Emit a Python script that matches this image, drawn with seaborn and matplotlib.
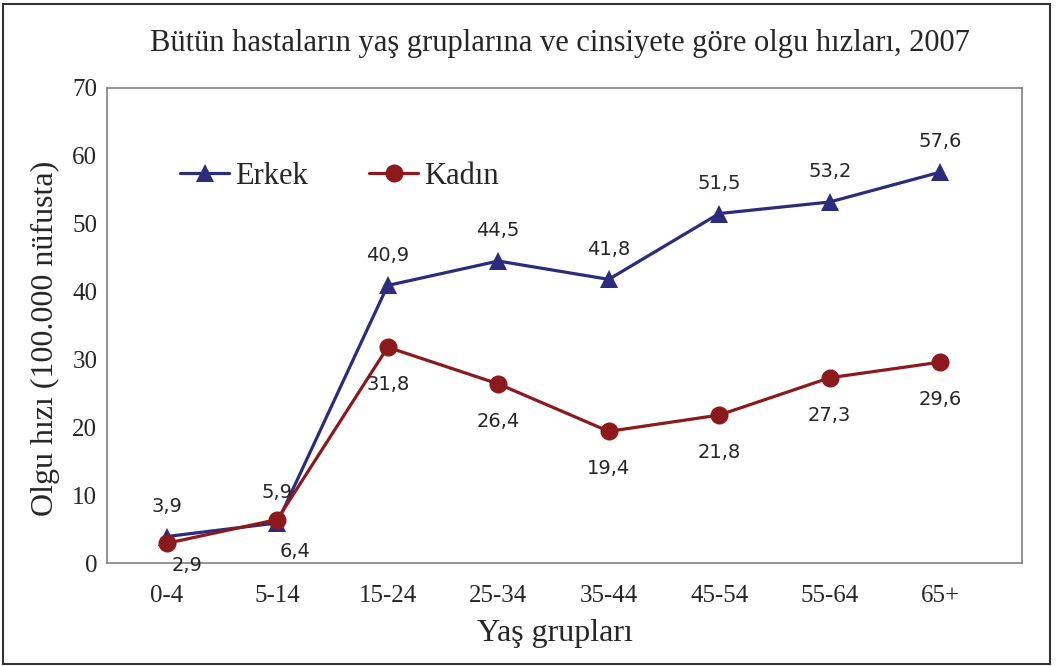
import matplotlib
matplotlib.use("Agg")
from matplotlib import pyplot as plt
from matplotlib.patches import Rectangle
import seaborn as sns
import pandas as pd

groups = ["0-4", "5-14", "15-24", "25-34", "35-44", "45-54", "55-64", "65+"]
erkek = [3.9, 5.9, 40.9, 44.5, 41.8, 51.5, 53.2, 57.6]
kadin = [2.9, 6.4, 31.8, 26.4, 19.4, 21.8, 27.3, 29.6]
series = ["Erkek", "Kadın"]

blue = "#2B2C7C"
red = "#8C1A1C"

df = pd.DataFrame({
    "grup": groups * 2,
    "x": list(range(len(groups))) * 2,
    "hiz": erkek + kadin,
    "cins": ["Erkek"] * len(groups) + ["Kadın"] * len(groups),
})

sns.set_style("white")
serif = "Liberation Serif"

fig = plt.figure(figsize=(10.57, 6.66), dpi=100)
ax = fig.add_axes([107 / 1057, 1 - 563 / 666, 915 / 1057, 475 / 666])

sns.lineplot(data=df, x="x", y="hiz", hue="cins", style="cins",
             palette={"Erkek": blue, "Kadın": red},
             markers={"Erkek": "^", "Kadın": "o"}, dashes=False,
             markersize=13, linewidth=2.3, markeredgewidth=0, ax=ax)

# data labels: Erkek above, Kadın below (first two nudged right, as in the source)
for i, v in enumerate(erkek):
    ax.annotate(f"{v:.1f}".replace(".", ","), (i, v), xytext=(0, 15),
                textcoords="offset points", ha="center", va="bottom",
                fontsize=14, family="DejaVu Sans")
kadin_off = {0: (15, -9), 1: (13, -16)}
for i, v in enumerate(kadin):
    off = kadin_off.get(i, (0, -20))
    ax.annotate(f"{v:.1f}".replace(".", ","), (i, v), xytext=off,
                textcoords="offset points", ha="center", va="top",
                fontsize=14, family="DejaVu Sans")

ax.set_xlim(-0.54, 7.74)
ax.set_ylim(0, 70)
ax.set_xticks(range(len(groups)))
ax.set_xticklabels(groups, family=serif, fontsize=18)
ax.set_yticks(range(0, 71, 10))
ax.set_yticklabels([str(t) for t in range(0, 71, 10)], family=serif, fontsize=18)
ax.tick_params(axis="x", length=0, pad=16)
ax.tick_params(axis="y", length=0, pad=7)

for s in ax.spines.values():
    s.set_color("#808080")
    s.set_linewidth(1.2)

ax.set_xlabel("Yaş grupları", family=serif, fontsize=23)
ax.set_ylabel("Olgu hızı (100.000 nüfusta)", family=serif, fontsize=23)
ax.xaxis.set_label_coords((555 - 107) / 915, -(633 - 563) / 475)
ax.yaxis.set_label_coords(-(107 - 45) / 915, (563 - 338) / 475)
ax.xaxis.label.set_va("center")
ax.yaxis.label.set_va("center")

handles, labels = ax.get_legend_handles_labels()
ax.legend(handles, labels, loc="center left", bbox_to_anchor=(0.05, (563 - 176) / 475),
          ncol=2, frameon=False, prop={"family": serif, "size": 22},
          handlelength=1.6, columnspacing=2.0, handletextpad=0.2)

fig.text(560 / 1057, 1 - 43 / 666, "Bütün hastaların yaş gruplarına ve cinsiyete göre olgu hızları, 2007",
         ha="center", va="center", family=serif, fontsize=22)

fig.patches.append(Rectangle((3 / 1057, 2 / 666), 1047 / 1057, 660 / 666,
                             transform=fig.transFigure, fill=False,
                             edgecolor="#333333", linewidth=1.5))

fig.savefig("out.png", dpi=100)
